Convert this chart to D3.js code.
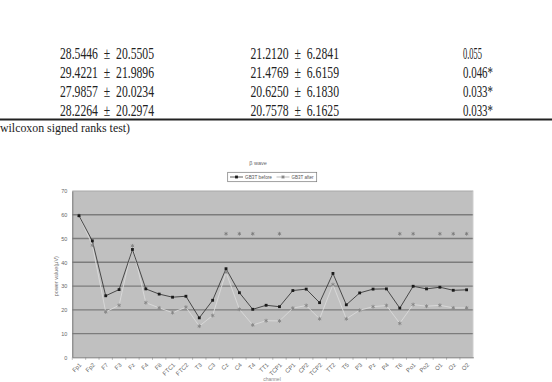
<!DOCTYPE html>
<html>
<head>
<meta charset="utf-8">
<script src="https://cdn.jsdelivr.net/npm/d3@7"></script>
<style>
  body { margin: 0; background: #fff; }
  svg { display: block; }
</style>
</head>
<body>
<div id="chart"></div>
<script>
// table rows shown above the chart (mean ± sd before / after, p value)
const rowBefore = ["28.5446 ± 20.5505", "29.4221 ± 21.9896", "27.9857 ± 20.0234", "28.2264 ± 20.2974"];
const rowAfter = ["21.2120 ± 6.2841", "21.4769 ± 6.6159", "20.6250 ± 6.1830", "20.7578 ± 6.1625"];
const rowP = ["0.055", "0.046*", "0.033*", "0.033*"];

// chart data
const channels = ["Fp1", "Fp2", "F7", "F3", "Fz", "F4", "F8", "FTC1", "FTC2", "T3",
  "C3", "Cz", "C4", "T4", "TT1", "TCP1", "CP1", "CP2", "TCP2", "TT2",
  "T5", "P3", "Pz", "P4", "T6", "Po1", "Po2", "O1", "Oz", "O2"];
const before = [59.6, 49.0, 25.9, 28.5, 45.4, 28.8, 26.6, 25.3, 25.7, 16.6,
  24.0, 37.3, 27.2, 20.2, 21.9, 21.3, 28.1, 28.7, 23.0, 35.3,
  22.1, 27.1, 28.7, 28.8, 20.7, 29.9, 28.8, 29.5, 28.2, 28.4];
const after = [59.7, 47.2, 19.1, 21.9, 46.9, 23.0, 20.8, 18.8, 21.1, 13.1,
  17.6, 35.8, 20.2, 13.6, 15.4, 15.3, 20.7, 21.8, 16.2, 30.6,
  16.2, 19.8, 21.3, 21.8, 14.3, 22.2, 21.5, 21.9, 20.8, 20.8];
const significant = ["Cz", "C4", "T4", "TCP1", "T6", "Po1", "O1", "Oz", "O2"];
const sigLevel = 52;
const yTicks = [0, 10, 20, 30, 40, 50, 60, 70];
const seriesNames = ["GB3T before", "GB3T after"];

const W = 552, H = 382;
const svg = d3.select("#chart").append("svg")
  .attr("width", W).attr("height", H)
  .style("font-family", "Arial, 'Liberation Sans', sans-serif");

svg.append("rect").attr("width", W).attr("height", H).attr("fill", "#fff");

// ---- table fragment ----
const tableFont = "'Liberation Serif', 'DejaVu Serif', serif";
const rowY = [59, 78, 97, 116];
const table = svg.append("g").attr("fill", "#222").style("font-family", tableFont).attr("font-size", 16);

// widen the gaps round ± like the typeset table
const spaced = s => s.replace(" ± ", "\u00a0\u00a0±\u00a0\u00a0");

table.selectAll(".c1").data(rowBefore).enter().append("text")
  .attr("x", 60).attr("y", (d, i) => rowY[i])
  .attr("textLength", 94).attr("lengthAdjust", "spacingAndGlyphs")
  .text(d => spaced(d));
table.selectAll(".c2").data(rowAfter).enter().append("text")
  .attr("x", 250.5).attr("y", (d, i) => rowY[i])
  .attr("textLength", 88.5).attr("lengthAdjust", "spacingAndGlyphs")
  .text(d => spaced(d));
table.selectAll(".c3").data(rowP).enter().append("text")
  .attr("x", 463).attr("y", (d, i) => rowY[i])
  .attr("textLength", d => d.endsWith("*") ? 30 : 19).attr("lengthAdjust", "spacingAndGlyphs")
  .text(d => d);

svg.append("line").attr("x1", 0).attr("x2", W).attr("y1", 119.5).attr("y2", 119.5)
  .attr("stroke", "#222").attr("stroke-width", 2);
svg.append("text").attr("x", 0).attr("y", 132)
  .style("font-family", tableFont).attr("font-size", 12).attr("fill", "#222")
  .attr("textLength", 130).attr("lengthAdjust", "spacingAndGlyphs")
  .text("wilcoxon signed ranks test)");

// ---- chart ----
const plot = { left: 72.3, right: 473.3, top: 191, bottom: 357.3 };

const xScale = d3.scaleBand().domain(channels).range([plot.left, plot.right]).padding(0);
const yScale = d3.scaleLinear().domain([0, 70]).range([plot.bottom, plot.top]);
const cx = c => xScale(c) + xScale.bandwidth() / 2;

svg.append("rect")
  .attr("x", plot.left).attr("y", plot.top)
  .attr("width", plot.right - plot.left).attr("height", plot.bottom - plot.top)
  .attr("fill", "#c0c0c0");

// gridlines
svg.selectAll(".grid").data(yTicks.filter(t => t > 0 && t < 70)).enter().append("line")
  .attr("x1", plot.left).attr("x2", plot.right)
  .attr("y1", d => yScale(d)).attr("y2", d => yScale(d))
  .attr("stroke", "#7c7c7c").attr("stroke-width", 1.3);

svg.append("line").attr("x1", plot.left).attr("x2", plot.right)
  .attr("y1", plot.top).attr("y2", plot.top).attr("stroke", "#a8a8a8").attr("stroke-width", 1);
svg.append("line").attr("x1", plot.right).attr("x2", plot.right)
  .attr("y1", plot.top).attr("y2", plot.bottom).attr("stroke", "#e6e6e6").attr("stroke-width", 1);

// y axis
const yAxis = d3.axisLeft(yScale).tickValues(yTicks).tickSize(0).tickPadding(5);
const yg = svg.append("g").attr("transform", `translate(${plot.left},0)`).call(yAxis);
yg.select(".domain").attr("stroke", "#777");
yg.selectAll("text").attr("font-size", 5.5).attr("fill", "#666").style("font-family", "inherit");

// x axis
const xAxis = d3.axisBottom(xScale).tickSize(0).tickPadding(0);
const xg = svg.append("g").attr("transform", `translate(0,${plot.bottom})`).call(xAxis);
xg.select(".domain").attr("stroke", "#777");
xg.selectAll("text")
  .attr("font-size", 6).attr("fill", "#666").style("font-family", "inherit")
  .attr("text-anchor", "end").attr("dy", null).attr("y", 0)
  .attr("transform", "translate(3,8) rotate(-45)");
// small tick marks between categories
svg.selectAll(".xt").data(channels).enter().append("line")
  .attr("x1", d => xScale(d)).attr("x2", d => xScale(d))
  .attr("y1", plot.bottom).attr("y2", plot.bottom + 2.5)
  .attr("stroke", "#888").attr("stroke-width", 0.6);

// series
const line = d3.line().x(d => cx(d.c)).y(d => yScale(d.v));
const beforeData = channels.map((c, i) => ({ c, v: before[i] }));
const afterData = channels.map((c, i) => ({ c, v: after[i] }));

svg.append("path").datum(afterData).attr("d", line)
  .attr("fill", "none").attr("stroke", "#dadada").attr("stroke-width", 0.9);
svg.append("path").datum(beforeData).attr("d", line)
  .attr("fill", "none").attr("stroke", "#3a3a3a").attr("stroke-width", 0.9);

const sq = d3.symbol().type(d3.symbolSquare).size(8);
const ast = d3.symbol().type(d3.symbolAsterisk).size(10);

svg.selectAll(".ma").data(afterData).enter().append("path")
  .attr("d", ast).attr("transform", d => `translate(${cx(d.c)},${yScale(d.v)})`)
  .attr("fill", "none").attr("stroke", "#858585").attr("stroke-width", 0.9);
svg.selectAll(".mb").data(beforeData).enter().append("path")
  .attr("d", sq).attr("transform", d => `translate(${cx(d.c)},${yScale(d.v)})`)
  .attr("fill", "#1a1a1a");

// significance marks
svg.selectAll(".sig").data(significant).enter().append("path")
  .attr("d", ast).attr("transform", d => `translate(${cx(d)},${yScale(sigLevel)})`)
  .attr("fill", "none").attr("stroke", "#777").attr("stroke-width", 0.8);

// titles
svg.append("text").attr("x", 258).attr("y", 165).attr("text-anchor", "middle")
  .attr("font-size", 5.5).attr("fill", "#666").text("β wave");
svg.append("text").attr("transform", `translate(58,${(plot.top + plot.bottom) / 2 + 2}) rotate(-90)`)
  .attr("text-anchor", "middle").attr("font-size", 5.5).attr("fill", "#777").text("power value(μV)");
svg.append("text").attr("x", 272).attr("y", 381).attr("text-anchor", "middle")
  .attr("font-size", 5).attr("fill", "#888").text("channel");

// legend
const lg = svg.append("g");
lg.append("rect").attr("x", 227.7).attr("y", 172.3).attr("width", 89).attr("height", 9.4)
  .attr("fill", "#fff").attr("stroke", "#777").attr("stroke-width", 0.7);
const legendItems = [
  { name: seriesNames[0], x: 230, len: 27, stroke: "#333", sym: sq, fill: "#1a1a1a", mstroke: "none" },
  { name: seriesNames[1], x: 276.5, len: 22, stroke: "#aaa", sym: ast, fill: "none", mstroke: "#777" }
];
legendItems.forEach(it => {
  lg.append("line").attr("x1", it.x).attr("x2", it.x + 13).attr("y1", 177).attr("y2", 177)
    .attr("stroke", it.stroke).attr("stroke-width", 0.8);
  lg.append("path").attr("d", it.sym).attr("transform", `translate(${it.x + 6.5},177)`)
    .attr("fill", it.fill).attr("stroke", it.mstroke).attr("stroke-width", 0.8);
  lg.append("text").attr("x", it.x + 15).attr("y", 179).attr("font-size", 5.2)
    .attr("textLength", it.len).attr("lengthAdjust", "spacingAndGlyphs")
    .attr("fill", "#555").text(it.name);
});
</script>
</body>
</html>
